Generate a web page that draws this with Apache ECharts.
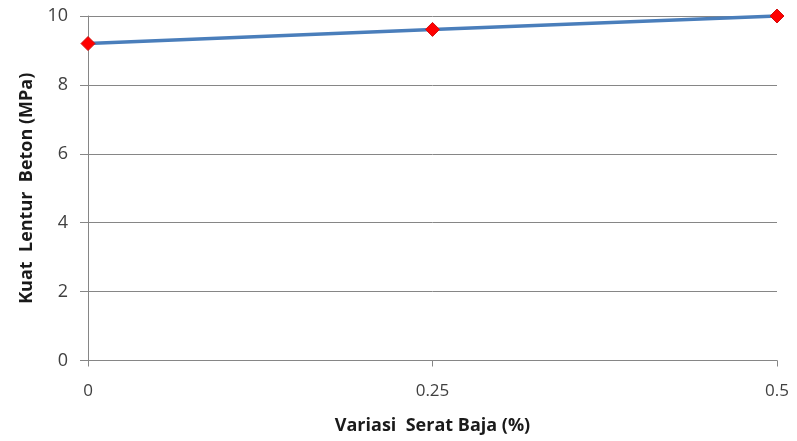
<!DOCTYPE html>
<html><head><meta charset="utf-8">
<script src="https://cdn.jsdelivr.net/npm/echarts@6/dist/echarts.min.js"></script>
<style>html,body{margin:0;padding:0;background:#fff}#c{width:797px;height:441px}</style>
</head><body><div id="c"></div>
<script>
const xValues = [0, 0.25, 0.5];
const yValues = [9.2, 9.61, 10.0];
const xTicks = ['0', '0.25', '0.5'];
const xName = 'Variasi  Serat Baja (%)';
const yName = 'Kuat  Lentur  Beton (MPa)';

const chart = echarts.init(document.getElementById('c'), null, {renderer: 'canvas'});
const font = 'Open Sans';
chart.setOption({
  animation: false,
  backgroundColor: '#ffffff',
  grid: {left: 88, right: 20, top: 16, bottom: 80.5, containLabel: false},
  xAxis: {
    type: 'value', min: 0, max: 0.5, interval: 0.25,
    name: xName, nameLocation: 'middle', nameGap: 56,
    nameTextStyle: {fontFamily: font, fontWeight: 'bold', fontSize: 18, color: '#1a1a1a'},
    axisLine: {show: true, lineStyle: {color: '#868686', width: 1}},
    axisTick: {show: true, length: 6, lineStyle: {color: '#868686'}},
    axisLabel: {fontFamily: font, fontSize: 17, color: '#404040', margin: 22,
      formatter: v => { const i = xValues.indexOf(v); return i >= 0 ? xTicks[i] : ''; }},
    splitLine: {show: false}
  },
  yAxis: {
    type: 'value', min: 0, max: 10, interval: 2,
    name: yName, nameLocation: 'middle', nameGap: 52,
    nameTextStyle: {fontFamily: font, fontWeight: 'bold', fontSize: 18, color: '#1a1a1a'},
    axisLine: {show: true, lineStyle: {color: '#868686', width: 1}},
    axisTick: {show: true, inside: false, length: 8, lineStyle: {color: '#868686'}},
    axisLabel: {fontFamily: font, fontSize: 18, color: '#404040', margin: 20},
    splitLine: {show: true, lineStyle: {color: '#868686', width: 1}}
  },
  series: [{
    type: 'line',
    data: xValues.map((x, i) => [x, yValues[i]]),
    lineStyle: {color: '#4a7ebb', width: 3.5},
    symbol: 'path://M0,-1L1,0L0,1L-1,0Z',
    symbolSize: 14,
    itemStyle: {color: '#ff0000', borderColor: '#d01010', borderWidth: 1},
    clip: false
  }]
});
</script></body></html>
